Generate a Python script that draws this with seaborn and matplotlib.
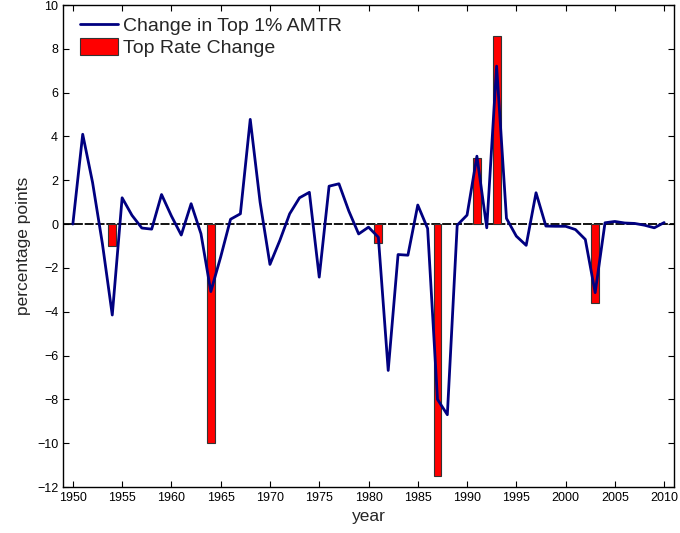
import numpy as np
import pandas as pd
import matplotlib
matplotlib.use("Agg")
import matplotlib.pyplot as plt
import seaborn as sns

# yearly change in the top 1% average marginal tax rate (pp)
years = list(range(1950, 2011))
amtr_change = [
    0.0, 4.1, 1.9, -0.9, -4.15, 1.2, 0.4, -0.18, -0.23, 1.35,
    0.37, -0.5, 0.93, -0.44, -3.08, -1.5, 0.22, 0.47, 4.78, 1.0,
    -1.84, -0.75, 0.47, 1.2, 1.45, -2.42, 1.73, 1.84, 0.6, -0.45,
    -0.14, -0.6, -6.68, -1.39, -1.42, 0.87, -0.2, -8.0, -8.7, -0.05,
    0.41, 3.1, -0.17, 7.21, 0.26, -0.55, -0.97, 1.43, -0.09, -0.1,
    -0.1, -0.25, -0.7, -3.13, 0.06, 0.12, 0.05, 0.03, -0.05, -0.17,
    0.07,
]

# statutory top rate changes
rate_years = [1954, 1964, 1981, 1987, 1991, 1993, 2003]
rate_change = [-1.0, -10.0, -0.88, -11.5, 3.0, 8.6, -3.6]

df_line = pd.DataFrame({"year": years, "change": amtr_change})

sns.set_theme(style="ticks")
plt.rcParams["font.family"] = ["Liberation Sans", "DejaVu Sans"]

fig = plt.figure(figsize=(6.8, 5.33), dpi=100)
ax = fig.add_axes([63 / 680, 1 - 487 / 533, (674 - 63) / 680, (487 - 5) / 533])

ax.axhline(0, color="black", lw=1.3, ls=(0, (5, 1)), zorder=1)
ax.bar(rate_years, rate_change, width=0.8, color="#ff0000",
       edgecolor="#333333", linewidth=0.8, label="Top Rate Change", zorder=2)
sns.lineplot(data=df_line, x="year", y="change", ax=ax, color="#000080",
             lw=2.0, label="Change in Top 1% AMTR", zorder=3)

ax.set_xlim(1949, 2011)
ax.set_ylim(-12, 10)
ax.set_xticks(range(1950, 2011, 5))
ax.set_yticks(range(-12, 11, 2))
ax.set_yticklabels([f"{t}".replace("-", "\u2212") for t in range(-12, 11, 2)])
ax.tick_params(direction="in", top=True, right=True, labelsize=9,
               length=4, width=0.8, colors="black")
for sp in ax.spines.values():
    sp.set_color("black")
    sp.set_linewidth(1.0)

ax.set_xlabel("year", fontsize=12.5, labelpad=4)
ax.set_ylabel("percentage points", fontsize=12.5, labelpad=4)

handles, labels = ax.get_legend_handles_labels()
order = [labels.index("Change in Top 1% AMTR"), labels.index("Top Rate Change")]
ax.legend([handles[i] for i in order], [labels[i] for i in order],
          loc="upper left", bbox_to_anchor=(0.008, 1.0), frameon=False,
          fontsize=14, handlelength=2.0, handleheight=0.9, handletextpad=0.25,
          labelspacing=0.15, borderaxespad=0.3, borderpad=0.3)

fig.savefig("out.png", dpi=100)
